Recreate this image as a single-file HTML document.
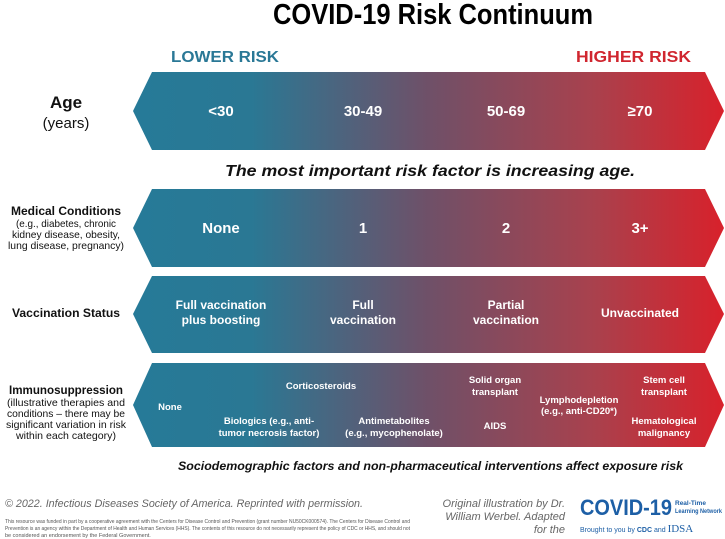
<!DOCTYPE html>
<html><head><meta charset="utf-8"><style>
html,body{margin:0;padding:0;background:#fff;}
svg{display:block;}
text{font-family:"Liberation Sans",sans-serif;}
.w{fill:#fff;font-weight:bold;text-anchor:middle;}
.lab{fill:#111;text-anchor:middle;}
</style></head><body>
<svg width="725" height="539" viewBox="0 0 725 539">
<defs>
<linearGradient id="g" gradientUnits="userSpaceOnUse" x1="133" y1="0" x2="724" y2="0">
<stop offset="0" stop-color="#267a98"/>
<stop offset="0.2" stop-color="#2a7894"/>
<stop offset="0.5" stop-color="#6f5068"/>
<stop offset="0.78" stop-color="#a9414d"/>
<stop offset="1" stop-color="#d8212b"/>
</linearGradient>
</defs>
<text x="433" y="24" text-anchor="middle" font-family="Liberation Sans Narrow, Liberation Sans, sans-serif" font-weight="bold" font-size="29" textLength="320" lengthAdjust="spacingAndGlyphs" fill="#000">COVID-19 Risk Continuum</text>
<text x="171" y="62" font-weight="bold" font-size="16" fill="#2a7896" textLength="108" lengthAdjust="spacingAndGlyphs">LOWER RISK</text>
<text x="576" y="62" font-weight="bold" font-size="16" fill="#d0262f" textLength="115" lengthAdjust="spacingAndGlyphs">HIGHER RISK</text>

<!-- Age band -->
<polygon fill="url(#g)" points="133,111 152,72 705,72 724,111 705,150 152,150"/>
<text class="lab" x="66" y="108" font-size="17" font-weight="bold">Age</text>
<text class="lab" x="66" y="128" font-size="15">(years)</text>
<g font-size="15">
<text class="w" x="221" y="116">&lt;30</text>
<text class="w" x="363" y="116">30-49</text>
<text class="w" x="506" y="116">50-69</text>
<text class="w" x="640" y="116">≥70</text>
</g>
<text x="430" y="176" text-anchor="middle" font-size="16" font-weight="bold" font-style="italic" fill="#111" textLength="410" lengthAdjust="spacingAndGlyphs">The most important risk factor is increasing age.</text>

<!-- Medical -->
<polygon fill="url(#g)" points="133,228 152,189 705,189 724,228 705,267 152,267"/>
<text class="lab" x="66" y="215" font-size="12" font-weight="bold" textLength="110" lengthAdjust="spacingAndGlyphs">Medical Conditions</text>
<g font-size="10.5">
<text class="lab" x="66" y="227" textLength="100" lengthAdjust="spacingAndGlyphs">(e.g., diabetes, chronic</text>
<text class="lab" x="66" y="238" textLength="108" lengthAdjust="spacingAndGlyphs">kidney disease, obesity,</text>
<text class="lab" x="66" y="249" textLength="116" lengthAdjust="spacingAndGlyphs">lung disease, pregnancy)</text>
</g>
<g font-size="15">
<text class="w" x="221" y="233">None</text>
<text class="w" x="363" y="233">1</text>
<text class="w" x="506" y="233">2</text>
<text class="w" x="640" y="233">3+</text>
</g>

<!-- Vaccination -->
<polygon fill="url(#g)" points="133,314 152,276 705,276 724,314 705,353 152,353"/>
<text class="lab" x="66" y="317" font-size="12" font-weight="bold" textLength="108" lengthAdjust="spacingAndGlyphs">Vaccination Status</text>
<g font-size="12">
<text class="w" x="221" y="309">Full vaccination</text>
<text class="w" x="221" y="324">plus boosting</text>
<text class="w" x="363" y="309">Full</text>
<text class="w" x="363" y="324">vaccination</text>
<text class="w" x="506" y="309">Partial</text>
<text class="w" x="506" y="324">vaccination</text>
<text class="w" x="640" y="317">Unvaccinated</text>
</g>

<!-- Immunosuppression -->
<polygon fill="url(#g)" points="133,405 152,363 705,363 724,405 705,447 152,447"/>
<text class="lab" x="66" y="394" font-size="12" font-weight="bold" textLength="114" lengthAdjust="spacingAndGlyphs">Immunosuppression</text>
<g font-size="10.5">
<text class="lab" x="66" y="406" textLength="118" lengthAdjust="spacingAndGlyphs">(illustrative therapies and</text>
<text class="lab" x="66" y="417" textLength="118" lengthAdjust="spacingAndGlyphs">conditions – there may be</text>
<text class="lab" x="66" y="428" textLength="120" lengthAdjust="spacingAndGlyphs">significant variation in risk</text>
<text class="lab" x="66" y="439" textLength="100" lengthAdjust="spacingAndGlyphs">within each category)</text>
</g>
<g font-size="9.5">
<text class="w" x="170" y="410">None</text>
<text class="w" x="321" y="389">Corticosteroids</text>
<text class="w" x="269" y="424">Biologics (e.g., anti-</text>
<text class="w" x="269" y="436">tumor necrosis factor)</text>
<text class="w" x="394" y="424">Antimetabolites</text>
<text class="w" x="394" y="436">(e.g., mycophenolate)</text>
<text class="w" x="495" y="383">Solid organ</text>
<text class="w" x="495" y="395">transplant</text>
<text class="w" x="495" y="429">AIDS</text>
<text class="w" x="579" y="403">Lymphodepletion</text>
<text class="w" x="579" y="414">(e.g., anti-CD20*)</text>
<text class="w" x="664" y="383">Stem cell</text>
<text class="w" x="664" y="395">transplant</text>
<text class="w" x="664" y="424">Hematological</text>
<text class="w" x="664" y="436">malignancy</text>
</g>

<text x="178" y="470" font-size="12" font-weight="bold" font-style="italic" fill="#111" textLength="505" lengthAdjust="spacingAndGlyphs">Sociodemographic factors and non-pharmaceutical interventions affect exposure risk</text>

<text x="5" y="507" font-size="11" font-style="italic" fill="#666" textLength="358" lengthAdjust="spacingAndGlyphs">© 2022. Infectious Diseases Society of America. Reprinted with permission.</text>
<g font-size="5.5" fill="#555">
<text x="5" y="523" textLength="405" lengthAdjust="spacingAndGlyphs">This resource was funded in part by a cooperative agreement with the Centers for Disease Control and Prevention (grant number NU50CK000574). The Centers for Disease Control and</text>
<text x="5" y="530" textLength="405" lengthAdjust="spacingAndGlyphs">Prevention is an agency within the Department of Health and Human Services (HHS). The contents of this resource do not necessarily represent the policy of CDC or HHS, and should not</text>
<text x="5" y="537">be considered an endorsement by the Federal Government.</text>
</g>
<g font-size="11" font-style="italic" fill="#666" text-anchor="end">
<text x="565" y="507">Original illustration by Dr.</text>
<text x="565" y="520">William Werbel. Adapted</text>
<text x="565" y="533">for the</text>
</g>
<text x="580" y="515" font-size="22" font-weight="bold" fill="#1d5fa6" textLength="92" lengthAdjust="spacingAndGlyphs">COVID-19</text>
<text x="675" y="505" font-size="6.5" font-weight="bold" fill="#1d5fa6">Real-Time</text>
<text x="675" y="513" font-size="6.5" font-weight="bold" fill="#1d5fa6" textLength="47" lengthAdjust="spacingAndGlyphs">Learning Network</text>
<text x="580" y="532" font-size="7" fill="#1d5fa6">Brought to you by <tspan font-weight="bold">CDC</tspan> and <tspan font-size="11" font-family="Liberation Serif, serif">IDSA</tspan></text>
</svg>
</body></html>
